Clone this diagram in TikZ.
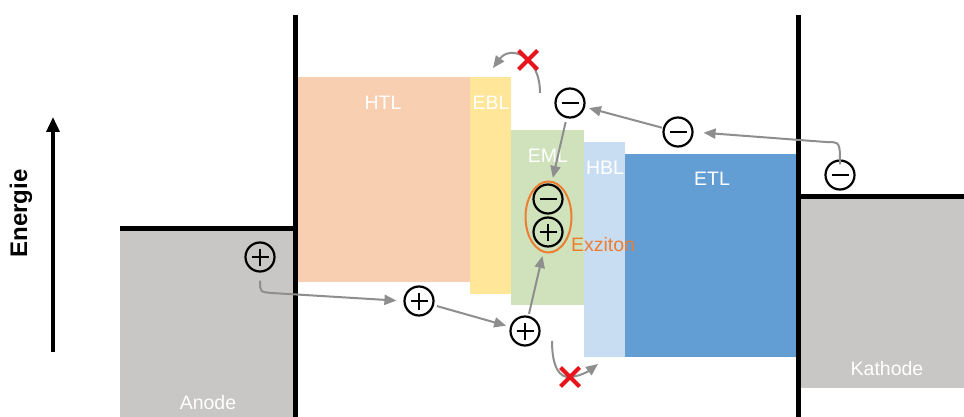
\documentclass[tikz,border=0pt]{standalone}
\usepackage{fontspec}
\setmainfont{Liberation Sans}
\usetikzlibrary{arrows.meta,shapes.misc,shapes.geometric}
\definecolor{htlc}{HTML}{F8CFB1}
\definecolor{eblc}{HTML}{FFE699}
\definecolor{emlc}{HTML}{CFE2BC}
\definecolor{hblc}{HTML}{C9DDF2}
\definecolor{etlc}{HTML}{629DD4}
\definecolor{elec}{HTML}{C8C7C6}
\definecolor{arrgray}{HTML}{8E8E8E}
\definecolor{xred}{HTML}{E8141C}
\definecolor{exorange}{HTML}{ED7D31}
\begin{document}
\begin{tikzpicture}[x=1pt,y=-1pt,
  lbl/.style={text=white,font=\fontsize{19.5}{22}\selectfont,inner sep=0pt},
  charge/.style={circle,draw=black,line width=2.2pt,minimum size=29pt,inner sep=0pt},
  poscharge/.style={charge,path picture={
     \draw[line width=2pt] ([xshift=-8.5pt]path picture bounding box.center)--([xshift=8.5pt]path picture bounding box.center);
     \draw[line width=2pt] ([yshift=-8.5pt]path picture bounding box.center)--([yshift=8.5pt]path picture bounding box.center);}},
  negcharge/.style={charge,path picture={
     \draw[line width=2pt] ([xshift=-8.5pt]path picture bounding box.center)--([xshift=8.5pt]path picture bounding box.center);}},
  arr/.style={draw=arrgray,line width=2pt,-{Triangle[width=10pt,length=12pt]}},
  nox/.style={cross out,draw=xred,line width=4pt,minimum size=15pt,inner sep=0pt},
  electrode/.style={line width=4.5pt,black}
]
\useasboundingbox (0,0) rectangle (964,417);
\fill[white] (0,0) rectangle (964,417);

% electrodes
\fill[elec] (120,228) rectangle (295,417);
\fill[elec] (798,196) rectangle (964,388);

% layers
\fill[htlc] (297,77) rectangle (470,282);
\fill[eblc] (470,77) rectangle (511,294);
\fill[emlc] (511,130) rectangle (584,305);
\fill[hblc] (584,142) rectangle (625,357);
\fill[etlc] (625,154) rectangle (797,357);

% black lines
\coordinate (la) at (295.5,15);
\coordinate (lb) at (295.5,417);
\coordinate (ra) at (798.5,15);
\coordinate (rb) at (798.5,417);
\draw[electrode] (la) -- (lb);
\draw[electrode] (ra) -- (rb);
\coordinate (an0) at (120,228.5);
\coordinate (an1) at (295.5,228.5);
\coordinate (ka0) at (798.5,196.5);
\coordinate (ka1) at (964,196.5);
\draw[electrode] (an0) -- (an1);
\draw[electrode] (ka0) -- (ka1);

% labels
\node[lbl] (thtl) at (383,103) {HTL};
\node[lbl] (tebl) at (491,103) {EBL};
\node[lbl] (teml) at (548,156) {EML};
\node[lbl] (thbl) at (605,168) {HBL};
\node[lbl] (tetl) at (712,179) {ETL};
\node[lbl] (tano) at (208,403) {Anode};
\node[lbl] (tkat) at (887,369) {Kathode};

% energy axis
\coordinate (eb) at (53,352);
\coordinate (et) at (53,117);
\draw[line width=3.5pt,-{Triangle[width=13pt,length=15pt]}] (eb) -- (et);
\node[rotate=90,inner sep=0pt,font=\fontsize{24}{26}\selectfont\bfseries] (ten) at (21,213.5) {Energie};

% charges
\node[poscharge] (p1) at (260,257) {};
\node[poscharge] (p2) at (419,301) {};
\node[poscharge] (p3) at (525,331) {};
\node[negcharge] (em) at (548,199) {};
\node[poscharge] (ep) at (548,232) {};
\node[negcharge] (m1) at (570,103) {};
\node[negcharge] (m2) at (678,132) {};
\node[negcharge] (m3) at (840,175) {};

% exciton
\node[ellipse,draw=exorange,line width=2pt,minimum width=46pt,minimum height=71pt,inner sep=0pt] (ex) at (548.5,217) {};
\node[text=exorange,font=\fontsize{19.5}{22}\selectfont,inner sep=0pt] (tex) at (603,245) {Exziton};

% hole path
\coordinate (c1) at (272,293);
\draw[arr,shorten >=7pt] ([yshift=-8pt]p1.south) .. controls (260,292) .. (c1) -- (p2.west);
\draw[arr,shorten <=3pt,shorten >=4pt] (p2) -- (p3);
\draw[arr,shorten <=2pt,shorten >=9pt] (p3) -- (ep);

% blocked hole
\coordinate (h0) at (552,341);
\coordinate (xb) at (570,377);
\coordinate (h1) at (598,364);
\draw[arr] (h0) .. controls (552,368) and (560,378) .. (xb) .. controls (582,376) and (590,370) .. (h1);
\node[nox] (x2) at (xb) {};

% electron path
\coordinate (k1) at (826,142);
\draw[arr,shorten >=10pt] ([yshift=-5pt]m3.north) .. controls (840,142) .. (k1) -- (m2.east);
\draw[arr,shorten <=1pt,shorten >=4pt] (m2) -- (m1);
\draw[arr,shorten <=4pt,shorten >=6pt] (m1) -- (em);

% blocked electron
\coordinate (e0) at (540,93);
\coordinate (xa) at (528,60);
\coordinate (e1) at (493,68);
\draw[arr] (e0) .. controls (540,55) and (510,45) .. (e1);
\node[nox] (x1) at (xa) {};
\end{tikzpicture}
\end{document}
